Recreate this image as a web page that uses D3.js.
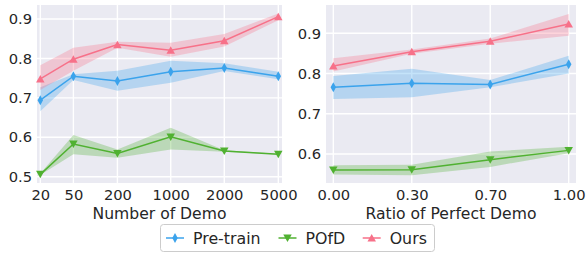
<!DOCTYPE html>
<html><head><meta charset="utf-8">
<script src="https://cdn.jsdelivr.net/npm/d3@7"></script>
<style>body{margin:0;background:#fff}svg{display:block;font-family:"DejaVu Sans",sans-serif}</style>
</head><body><svg id="c" width="586" height="253"></svg>
<script>
// ---- data ----
const demoLabels = ["20","50","200","1000","2000","5000"];
const demoAxisX = [0, 0.139, 0.324, 0.548, 0.773, 1]; // relative axis coordinate of each category
const ratioLabels = ["0.00","0.30","0.70","1.00"];
const seriesNames = ["Pre-train","POfD","Ours"];

const demoPretrain = [0.694, 0.755, 0.743, 0.766, 0.776, 0.755];
const demoPretrainLo = [0.666, 0.745, 0.718, 0.738, 0.768, 0.747];
const demoPretrainHi = [0.727, 0.760, 0.769, 0.794, 0.788, 0.766];
const demoPOfD = [0.506, 0.583, 0.559, 0.601, 0.565, 0.557];
const demoPOfDLo = [0.504, 0.557, 0.548, 0.569, 0.563, 0.556];
const demoPOfDHi = [0.508, 0.606, 0.569, 0.624, 0.567, 0.558];
const demoOurs = [0.748, 0.798, 0.835, 0.821, 0.845, 0.906];
const demoOursLo = [0.720, 0.769, 0.827, 0.804, 0.830, 0.897];
const demoOursHi = [0.783, 0.827, 0.842, 0.840, 0.862, 0.914];

const ratioPretrain = [0.766, 0.776, 0.773, 0.823];
const ratioPretrainLo = [0.737, 0.741, 0.766, 0.800];
const ratioPretrainHi = [0.794, 0.812, 0.784, 0.844];
const ratioPOfD = [0.560, 0.561, 0.586, 0.609];
const ratioPOfDLo = [0.549, 0.547, 0.568, 0.602];
const ratioPOfDHi = [0.572, 0.573, 0.606, 0.618];
const ratioOurs = [0.819, 0.854, 0.880, 0.923];
const ratioOursLo = [0.805, 0.849, 0.874, 0.894];
const ratioOursHi = [0.838, 0.860, 0.887, 0.948];

const leftYTicks = [0.5, 0.6, 0.7, 0.8, 0.9];
const rightYTicks = [0.6, 0.7, 0.8, 0.9];

// ---- style ----
const colors = {"Pre-train":"#3ba3ec","POfD":"#50b131","Ours":"#f77189"};
const markers = {"Pre-train":"diamond","POfD":"down","Ours":"up"};
const textColor = "#262626";
const tickFont = 14.7, labelFont = 15.6, legendFont = 15.8;

const svg = d3.select("#c");

function markerPath(type, s) {
  if (type === "diamond") return `M0,${-s}L${s*0.55},0L0,${s}L${-s*0.55},0Z`;
  if (type === "down") return `M${-s*0.85},${-s*0.7}L${s*0.85},${-s*0.7}L0,${s*0.8}Z`;
  return `M${-s*0.85},${s*0.7}L${s*0.85},${s*0.7}L0,${-s*0.8}Z`;
}

function panel(cfg) {
  const g = svg.append("g");
  const {x0,x1,y0,y1} = cfg.box;
  g.append("rect").attr("x",x0).attr("y",y0).attr("width",x1-x0).attr("height",y1-y0).attr("fill","#eaeaf2");
  const x = cfg.x, y = cfg.y;
  // grid
  g.selectAll(".gy").data(cfg.yTicks).join("line")
    .attr("x1",x0).attr("x2",x1).attr("y1",d=>y(d)).attr("y2",d=>y(d))
    .attr("stroke","#fff").attr("stroke-width",1.4);
  g.selectAll(".gx").data(cfg.xVals).join("line")
    .attr("y1",y0).attr("y2",y1).attr("x1",d=>x(d)).attr("x2",d=>x(d))
    .attr("stroke","#fff").attr("stroke-width",1.4);
  // series
  cfg.series.forEach(s => {
    const pts = cfg.xVals.map((xv,i)=>({x:xv, v:s.v[i], lo:s.lo[i], hi:s.hi[i]}));
    g.append("path").datum(pts)
      .attr("d", d3.area().x(d=>x(d.x)).y0(d=>y(d.lo)).y1(d=>y(d.hi)))
      .attr("fill", colors[s.name]).attr("fill-opacity",0.3);
    g.append("path").datum(pts)
      .attr("d", d3.line().x(d=>x(d.x)).y(d=>y(d.v)))
      .attr("fill","none").attr("stroke",colors[s.name]).attr("stroke-width",1.5);
    g.selectAll(null).data(pts).join("path")
      .attr("transform", d=>`translate(${x(d.x)},${y(d.v)})`)
      .attr("d", markerPath(markers[s.name], 5))
      .attr("fill", colors[s.name]);
  });
  // axes
  const ax = g.append("g").attr("transform",`translate(0,${y1})`)
    .call(d3.axisBottom(x).tickValues(cfg.xVals).tickFormat((d,i)=>cfg.xLabels[i]).tickSize(0).tickPadding(7));
  ax.select(".domain").remove();
  ax.selectAll("text").attr("font-size",tickFont).attr("fill",textColor).attr("font-family","DejaVu Sans");
  const ay = g.append("g").attr("transform",`translate(${x0},0)`)
    .call(d3.axisLeft(y).tickValues(cfg.yTicks).tickFormat(d3.format(".1f")).tickSize(0).tickPadding(5));
  ay.select(".domain").remove();
  ay.selectAll("text").attr("font-size",tickFont).attr("fill",textColor).attr("font-family","DejaVu Sans");
  g.append("text").attr("x",(x0+x1)/2).attr("y",218.5).attr("text-anchor","middle")
    .attr("font-size",labelFont).attr("fill",textColor).text(cfg.title);
}

panel({
  box:{x0:37,x1:282,y0:5,y1:183},
  x: d3.scaleLinear().domain([0,1]).range([40.3,278.3]),
  y: d3.scaleLinear().domain([0.5,0.9]).range([176.7,19]),
  xVals: demoAxisX, xLabels: demoLabels, yTicks: leftYTicks,
  title: "Number of Demo",
  series: [
    {name:"Pre-train", v:demoPretrain, lo:demoPretrainLo, hi:demoPretrainHi},
    {name:"POfD", v:demoPOfD, lo:demoPOfDLo, hi:demoPOfDHi},
    {name:"Ours", v:demoOurs, lo:demoOursLo, hi:demoOursHi}
  ]
});

panel({
  box:{x0:326,x1:576,y0:5,y1:183},
  x: d3.scalePoint().domain(ratioLabels).range([333.3,568.7]),
  y: d3.scaleLinear().domain([0.6,0.9]).range([154,33.3]),
  xVals: ratioLabels, xLabels: ratioLabels, yTicks: rightYTicks,
  title: "Ratio of Perfect Demo",
  series: [
    {name:"Pre-train", v:ratioPretrain, lo:ratioPretrainLo, hi:ratioPretrainHi},
    {name:"POfD", v:ratioPOfD, lo:ratioPOfDLo, hi:ratioPOfDHi},
    {name:"Ours", v:ratioOurs, lo:ratioOursLo, hi:ratioOursHi}
  ]
});

// legend
const lg = svg.append("g");
lg.append("rect").attr("x",160.5).attr("y",224.5).attr("width",274).attr("height",27).attr("rx",3)
  .attr("fill","#fff").attr("stroke","#cccccc").attr("stroke-width",1);
const legX = d3.scaleOrdinal().domain(seriesNames).range([166, 278.5, 362.7]);
seriesNames.forEach(n => {
  const lx = legX(n), ly = 238;
  lg.append("line").attr("x1",lx).attr("x2",lx+18).attr("y1",ly).attr("y2",ly)
    .attr("stroke",colors[n]).attr("stroke-width",1.5);
  lg.append("path").attr("transform",`translate(${lx+9},${ly})`).attr("d",markerPath(markers[n],5)).attr("fill",colors[n]);
  lg.append("text").attr("x",lx+27).attr("y",ly+5.5).attr("font-size",legendFont).attr("fill",textColor).text(n);
});
</script></body></html>
